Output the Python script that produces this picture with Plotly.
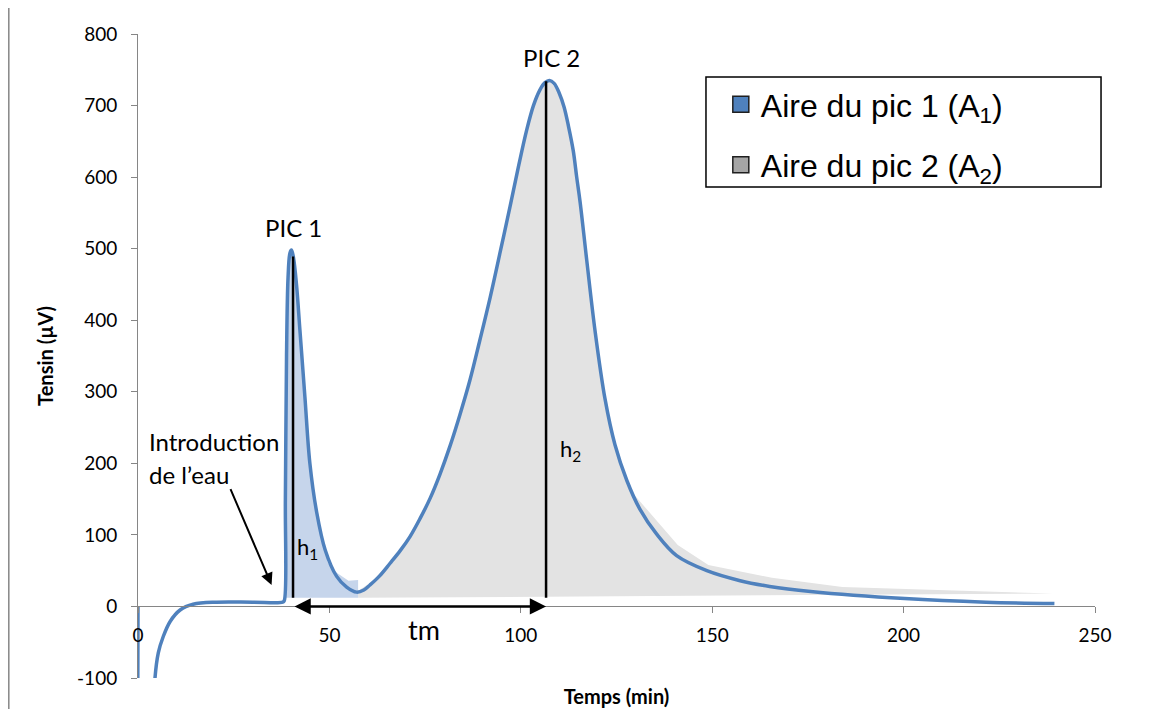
import plotly.graph_objects as go

# ---------------- data ----------------
time_min = [0, 0.05, 4.3, 5.3, 6.6, 8.4, 11, 14.4, 20.5, 30, 37.8, 38.2,
            38.5, 38.8, 39.2, 39.7, 40.1, 40.6, 41.4, 42.3, 43.6, 44.9, 46.7,
            48.9, 51.9, 54.5, 57.1, 59.0, 60.6, 63, 65.8, 68.5, 71.1, 73.7,
            76.3, 78.9, 81.5, 84.1, 86.7, 89.3, 92.0, 94.6, 97.2, 99.4, 101.5,
            103.3, 105.0, 106.3, 107.5, 108.7, 110.0, 111.3, 112.5, 113.7,
            114.6, 115.5, 117.2, 119.4, 122.0, 124.6, 127.7, 131.1, 135.5,
            140.7, 148.6, 157.3, 165, 175.7, 200.3, 221.5, 239.4]
tension_uv = [0, -1500, -110, -65, -42, -21, -5, 3, 6, 6, 6, 8,
              150, 350, 460, 494, 498, 488, 450, 386, 293, 200, 131,
              79, 42, 27, 20, 23, 30, 42, 60, 78, 98, 123,
              151, 185, 224, 268, 316, 372, 432, 495, 559, 615, 665,
              700, 722, 732, 735, 731, 718, 698, 670, 637,
              600, 565, 485, 385, 290, 226, 176, 136, 101,
              71, 50, 36, 28, 21, 11, 6, 4]

# Area of peak 1 (A1): upper edge, closed on a baseline
a1_x = [38.6, 38.6, 39.0, 39.5, 40.1, 40.8, 42.3, 43.6, 44.9, 46.7, 48.9,
        49.6, 51.9, 55.0, 57.5, 57.5]
a1_y = [12, 250, 420, 485, 498, 480, 386, 293, 200, 131, 79,
        61, 47, 36, 37, 12]

# Area of peak 2 (A2): upper edge, then back along the baseline
a2_x = [57.5, 61, 66, 71, 76.3, 81.5, 86.7, 92, 97.2, 101.5, 105, 107.5,
        110, 111.3, 113.7, 115.5, 117.2, 119.4, 122, 124.6, 129, 141, 149,
        165.6, 184, 239]
a2_y = [22, 34, 62, 98, 151, 224, 316, 432, 559, 665, 722, 735,
        718, 698, 637, 565, 485, 385, 290, 226, 160, 86, 58,
        40, 27, 18]
a2_base_start = 12

pic1_x, pic1_h = 40.5, 489
pic2_x, pic2_h = 106.6, 734
h_base = 12

x_ticks = [0, 50, 100, 150, 200, 250]
y_ticks = [-100, 0, 100, 200, 300, 400, 500, 600, 700, 800]

legend_names = ["Aire du pic 1 (A<sub>1</sub>)", "Aire du pic 2 (A<sub>2</sub>)"]

# ---------------- styles ----------------
BLUE = "#4F81BD"
BLUE_FILL = "#C6D5EB"
GREY_FILL = "#E3E3E3"
AXIS = "#868686"
FONT = "Lato"

fig = go.Figure()

fig.add_trace(go.Scatter(
    x=a2_x + [a2_x[0]], y=a2_y + [a2_base_start],
    fill="toself", fillcolor=GREY_FILL, line=dict(width=0),
    mode="lines", showlegend=False, hoverinfo="skip"))
fig.add_trace(go.Scatter(
    x=a1_x, y=a1_y, fill="toself", fillcolor=BLUE_FILL, line=dict(width=0),
    mode="lines", showlegend=False, hoverinfo="skip"))

fig.add_trace(go.Scatter(
    x=time_min, y=tension_uv, mode="lines",
    line=dict(color=BLUE, width=3.5, shape="spline", smoothing=1.0),
    showlegend=False))

# legend entries
fig.add_trace(go.Scatter(
    x=[None], y=[None], mode="markers", name=legend_names[0],
    marker=dict(symbol="square", size=16, color=BLUE,
                line=dict(color="#1F1F1F", width=1.5)),
    legendgroup="a1"))
fig.add_trace(go.Scatter(
    x=[None], y=[None], mode="markers", name=legend_names[1],
    marker=dict(symbol="square", size=16, color="#A5A5A5",
                line=dict(color="#1F1F1F", width=1.5)),
    legendgroup="a2"))

# vertical height lines
for px_, h_ in [(pic1_x, pic1_h), (pic2_x, pic2_h)]:
    fig.add_shape(type="line", x0=px_, x1=px_, y0=h_base, y1=h_,
                  xref="x", yref="y", line=dict(color="black", width=2.5))

# legend frame
fig.add_shape(type="rect", xref="paper", yref="paper",
              x0=0.5935, x1=1.0063, y0=0.7625, y1=0.9333,
              line=dict(color="black", width=1.5), fillcolor="white",
              layer="above")

# outer chart border (left edge)
fig.add_shape(type="line", xref="paper", yref="paper",
              x0=-0.1350, x1=-0.1350, y0=-0.06, y1=1.06,
              line=dict(color=AXIS, width=1.5))

txt = dict(family=FONT, color="black")
annotations = [
    dict(x=pic1_x, y=530, text="PIC 1", font=dict(size=24, **txt)),
    dict(x=pic2_x + 1.3, y=767, text="PIC 2", font=dict(size=24, **txt)),
    dict(x=44.3, y=82, text="h<sub>1</sub>", font=dict(size=22, **txt)),
    dict(x=113, y=219, text="h<sub>2</sub>", font=dict(size=22, **txt)),
    dict(x=2.3, y=231, text="Introduction", xanchor="left",
         font=dict(size=24, **txt)),
    dict(x=2.3, y=185, text="de l’eau", xanchor="left",
         font=dict(size=24, **txt)),
    dict(x=74.8, y=-32, text="tm", font=dict(size=27, **txt)),
    # arrow for the water introduction
    dict(x=34.9, y=30, ax=24.0, ay=166, axref="x", ayref="y", text="",
         showarrow=True, arrowhead=2, arrowsize=1.2, arrowwidth=2,
         arrowcolor="black", standoff=0, startstandoff=0),
    # double arrow tm
    dict(x=pic2_x, y=0, ax=pic1_x, ay=0, axref="x", ayref="y", text="",
         showarrow=True, arrowhead=2, startarrowhead=2, arrowside="end+start",
         arrowsize=1.3, startarrowsize=1.3, arrowwidth=2.5,
         arrowcolor="black", standoff=0, startstandoff=0),
]
for a in annotations:
    a.setdefault("showarrow", False)
    a.setdefault("xref", "x")
    a.setdefault("yref", "y")
    fig.add_annotation(**a)

fig.update_layout(
    width=1143, height=701,
    margin=dict(l=130, r=56, t=26, b=31, autoexpand=False),
    paper_bgcolor="white", plot_bgcolor="white",
    font=dict(family=FONT, color="black"),
    xaxis=dict(range=[0, 250], tickvals=x_ticks,
               ticktext=[str(v) for v in x_ticks], ticks="outside", ticklen=6,
               tickcolor=AXIS, showline=True, linecolor=AXIS, linewidth=1,
               showgrid=False, zeroline=False, anchor="free",
               position=100 / 900, tickfont=dict(size=19, family=FONT),
               ticklabelstandoff=6, automargin=False,
               title=dict(text="<b>Temps (min)</b>",
                          font=dict(size=20, family=FONT), standoff=44)),
    yaxis=dict(range=[-100, 800], tickvals=y_ticks,
               ticktext=[str(v) for v in y_ticks], ticks="outside", ticklen=6,
               tickcolor=AXIS, showline=True, linecolor=AXIS, linewidth=1,
               showgrid=False, zeroline=False, automargin=False,
               tickfont=dict(size=19, family=FONT), ticklabelstandoff=10,
               title=dict(text="<b>Tensin (µV)</b>",
                          font=dict(size=20, family=FONT), standoff=18)),
    legend=dict(x=0.609, y=0.9333, xanchor="left", yanchor="top",
                borderwidth=0, bgcolor="rgba(0,0,0,0)",
                font=dict(family="Liberation Sans", size=32, color="black"),
                traceorder="grouped", tracegroupgap=16),
    showlegend=True,
)

fig.write_html("out.html")
